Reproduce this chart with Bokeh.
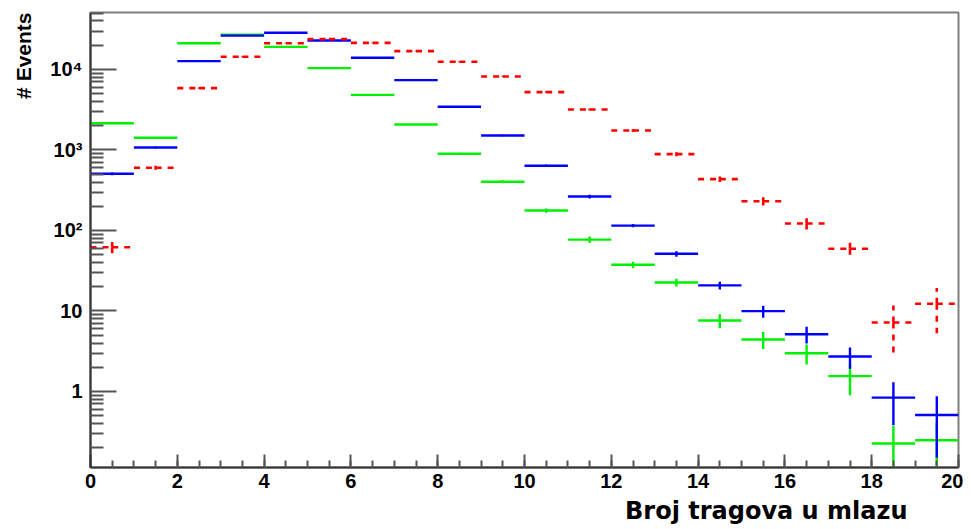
import numpy as np
from bokeh.plotting import figure
from bokeh.models import (ColumnDataSource, FixedTicker, SingleIntervalTicker,
                          Title, Range1d)
from bokeh.embed import file_html
from bokeh.resources import INLINE

# ---------------- data ----------------
bin_edges = list(range(0, 21))

red_vals = [62, 601, 5860, 14400, 21200, 23800, 21400, 16900, 12450, 8190,
            5230, 3185, 1746, 887, 434, 231, 122, 59.2, 7.2, 12.3]
red_errs = [10, 35, 120, 190, 230, 250, 230, 210, 180, 150,
            120, 95, 70, 50, 35, 27, 20, 11, 4.5, 7]

blue_vals = [506, 1074, 12700, 26300, 28600, 22900, 13970, 7370, 3440, 1514,
             636, 264, 115, 51.3, 20.8, 9.95, 5.15, 2.72, 0.84, 0.51]
blue_errs = [20, 30, 100, 150, 160, 140, 110, 80, 55, 35,
             22, 14, 5, 4, 2.3, 1.7, 1.2, 0.8, 0.46, 0.36]

green_vals = [2150, 1417, 21200, 27000, 19100, 10400, 4840, 2074, 896, 403,
              177, 77, 37.5, 22.6, 7.6, 4.43, 2.99, 1.55, 0.226, 0.248]
green_errs = [40, 35, 130, 160, 130, 90, 60, 40, 25, 17,
              11, 7, 3.5, 2.5, 1.5, 1.05, 0.83, 0.65, 0.15, 0.16]

y_tick_values = [1, 10, 100, 1000, 10000]
y_tick_labels = ["1", "10", "10\u00b2", "10\u00b3", "10\u2074"]
x_title = "Broj tragova u mlazu"
y_title = "# Events"

# ---------------- figure ----------------
p = figure(width=963, height=529, y_axis_type="log",
           x_range=Range1d(0, 20), y_range=Range1d(0.1137, 51000),
           output_backend="svg", toolbar_location=None, title=None,
           min_border_left=90, min_border_right=5, min_border_top=12,
           min_border_bottom=62, background_fill_color="white",
           border_fill_color="white")
p.xgrid.visible = False
p.ygrid.visible = False
p.outline_line_color = "#7f7f7f"
p.outline_line_width = 2

lo = np.array(bin_edges[:-1], dtype=float)
hi = np.array(bin_edges[1:], dtype=float)
ctr = (lo + hi) / 2.0


def solid_hist(vals, errs, color):
    v = np.array(vals, dtype=float)
    e = np.array(errs, dtype=float)
    hs = ColumnDataSource(dict(x0=lo, x1=hi, y0=v, y1=v))
    vs = ColumnDataSource(dict(x0=ctr, x1=ctr, y0=v - e, y1=v + e))
    p.segment("x0", "y0", "x1", "y1", source=hs, line_color=color, line_width=2.4)
    p.segment("x0", "y0", "x1", "y1", source=vs, line_color=color, line_width=2.4)


def dashed_hist(vals, errs, color):
    v = np.array(vals, dtype=float)
    e = np.array(errs, dtype=float)
    x0 = np.concatenate([lo, ctr, ctr, ctr])
    x1 = np.concatenate([ctr, hi, ctr, ctr])
    y0 = np.concatenate([v, v, v, v])
    y1 = np.concatenate([v, v, v + e, v - e])
    src = ColumnDataSource(dict(x0=x0, x1=x1, y0=y0, y1=y1))
    p.segment("x0", "y0", "x1", "y1", source=src, line_color=color,
              line_width=2.6, line_dash="6 6")


solid_hist(green_vals, green_errs, "#00f000")
solid_hist(blue_vals, blue_errs, "#0000ff")
dashed_hist(red_vals, red_errs, "#ff0000")

# ---------------- axes ----------------
minor_y = [m * 10.0 ** k for k in range(-1, 5) for m in range(2, 10)]
ya = p.yaxis[0]
ya.ticker = FixedTicker(ticks=y_tick_values, minor_ticks=minor_y)
ya.major_label_overrides = {t: s for t, s in zip(y_tick_values, y_tick_labels)}
ya.major_tick_in = 26
ya.major_tick_out = 0
ya.minor_tick_in = 13
ya.minor_tick_out = 0
ya.major_label_standoff = 8

xa = p.xaxis[0]
xa.ticker = SingleIntervalTicker(interval=2, num_minor_ticks=4)
xa.major_tick_in = 13
xa.major_tick_out = 0
xa.minor_tick_in = 7
xa.minor_tick_out = 0
xa.major_label_standoff = 6

for ax in (xa, ya):
    ax.axis_line_color = "#333333"
    ax.axis_line_width = 2
    ax.major_tick_line_color = "#555555"
    ax.minor_tick_line_color = "#555555"
    ax.major_tick_line_width = 2
    ax.minor_tick_line_width = 2
    ax.major_label_text_font = "Liberation Sans"
    ax.major_label_text_font_style = "bold"
    ax.major_label_text_font_size = "20px"
    ax.major_label_text_color = "#000000"

# ---------------- titles ----------------
p.add_layout(Title(text=y_title, align="right", offset=0, standoff=21,
                   vertical_align="top",
                   text_font="Liberation Sans", text_font_style="bold",
                   text_font_size="21px", text_color="#000000"), "left")

p.add_layout(Title(text=x_title, align="right", offset=51, standoff=9,
                   vertical_align="bottom",
                   text_font="DejaVu Sans", text_font_style="bold",
                   text_font_size="24px", text_color="#000000"), "below")

open("out.html", "w").write(file_html(p, INLINE))
